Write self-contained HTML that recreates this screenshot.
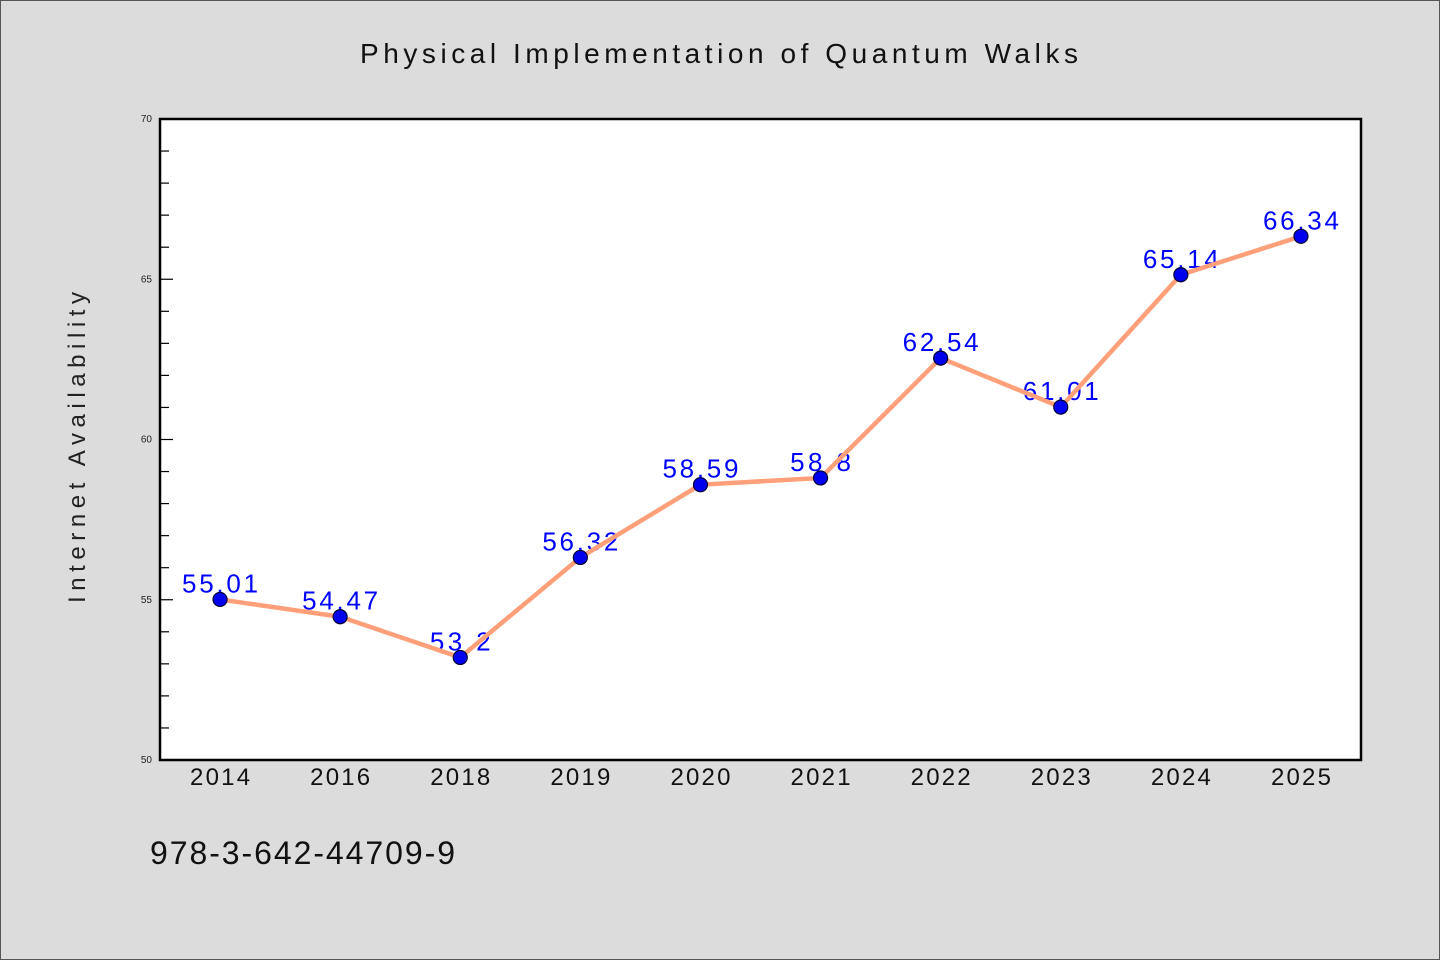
<!DOCTYPE html>
<html><head><meta charset="utf-8"><style>
html,body{margin:0;padding:0;background:#dcdcdc;}
svg{display:block;font-family:"WenQuanYi Zen Hei","Liberation Sans",sans-serif;}
</style></head><body>
<svg id="chart" width="1440" height="960" viewBox="0 0 1440 960">
<rect x="0.5" y="0.5" width="1439" height="959" fill="#dcdcdc" stroke="#555"/>
<text x="360" y="63" textLength="718" lengthAdjust="spacing" font-size="28" fill="#111">Physical Implementation of Quantum Walks</text>
<rect x="160" y="119" width="1201" height="641" fill="#fff" stroke="#000" stroke-width="2.5"/>
<text transform="translate(85,603) rotate(-90)" textLength="311" lengthAdjust="spacing" font-size="24" fill="#222">Internet Availability</text>
<text x="150" y="864" textLength="305" lengthAdjust="spacing" font-size="32" fill="#111">978-3-642-44709-9</text>
<g id="ticks"></g><g id="labels"></g><g id="series"></g>
</svg>
<script>
const categories=["2014","2016","2018","2019","2020","2021","2022","2023","2024","2025"];
const values=[55.01,54.47,53.2,56.32,58.59,58.8,62.54,61.01,65.14,66.34];
const valueLabels=["55.01","54.47","53.2","56.32","58.59","58.8","62.54","61.01","65.14","66.34"];
const yTicks=[50,55,60,65,70];
const NS="http://www.w3.org/2000/svg";
const L=160,R=1361,T=119,B=760,yMin=50,yMax=70;
const band=(R-L)/categories.length;
function xs(i){return L+band*(i+0.5);}
function ys(v){return B-(v-yMin)/(yMax-yMin)*(B-T);}
function mk(tag,a){const e=document.createElementNS(NS,tag);for(const k in a)e.setAttribute(k,a[k]);return e;}
const tg=document.getElementById('ticks');
for(let v=yMin;v<=yMax;v++){
 const major=yTicks.includes(v);
 const t=mk('line',{x1:L,x2:L+(major?13:9),y1:ys(v),y2:ys(v),stroke:'#000','stroke-width':1.2});
 
 
 tg.appendChild(t);
}
yTicks.forEach(v=>{
 const t=mk('text',{x:L-8,y:ys(v)+3,'text-anchor':'end','font-size':10,fill:'#222'});
 t.textContent=v;
 
 
 tg.appendChild(t);
});
categories.forEach((c,i)=>{
 const t=mk('text',{x:xs(i)-30,y:785,textLength:60,lengthAdjust:'spacing','font-size':24,fill:'#111'});
 t.textContent=c;
 
 
 tg.appendChild(t);
});
const lg=document.getElementById('labels');
values.forEach((v,i)=>{
 const s=valueLabels[i];
 const w=s.length*15.2;
 const t=mk('text',{x:xs(i)-w/2,y:ys(v)-7,textLength:w,lengthAdjust:'spacing','font-size':26,fill:'#0000ff'});
 t.textContent=s;
 
 
 lg.appendChild(t);
});
const sg=document.getElementById('series');
const pl=mk('polyline',{points:values.map((v,i)=>xs(i)+','+ys(v)).join(' '),fill:'none',stroke:'#ffa07a','stroke-width':4.5,'stroke-linejoin':'round'});


sg.appendChild(pl);
values.forEach((v,i)=>{
 const c=mk('circle',{cx:xs(i),cy:ys(v),r:7,fill:'#0000ee',stroke:'#000033','stroke-width':1.2});
 
 
 sg.appendChild(c);
});
</script>
</body></html>
